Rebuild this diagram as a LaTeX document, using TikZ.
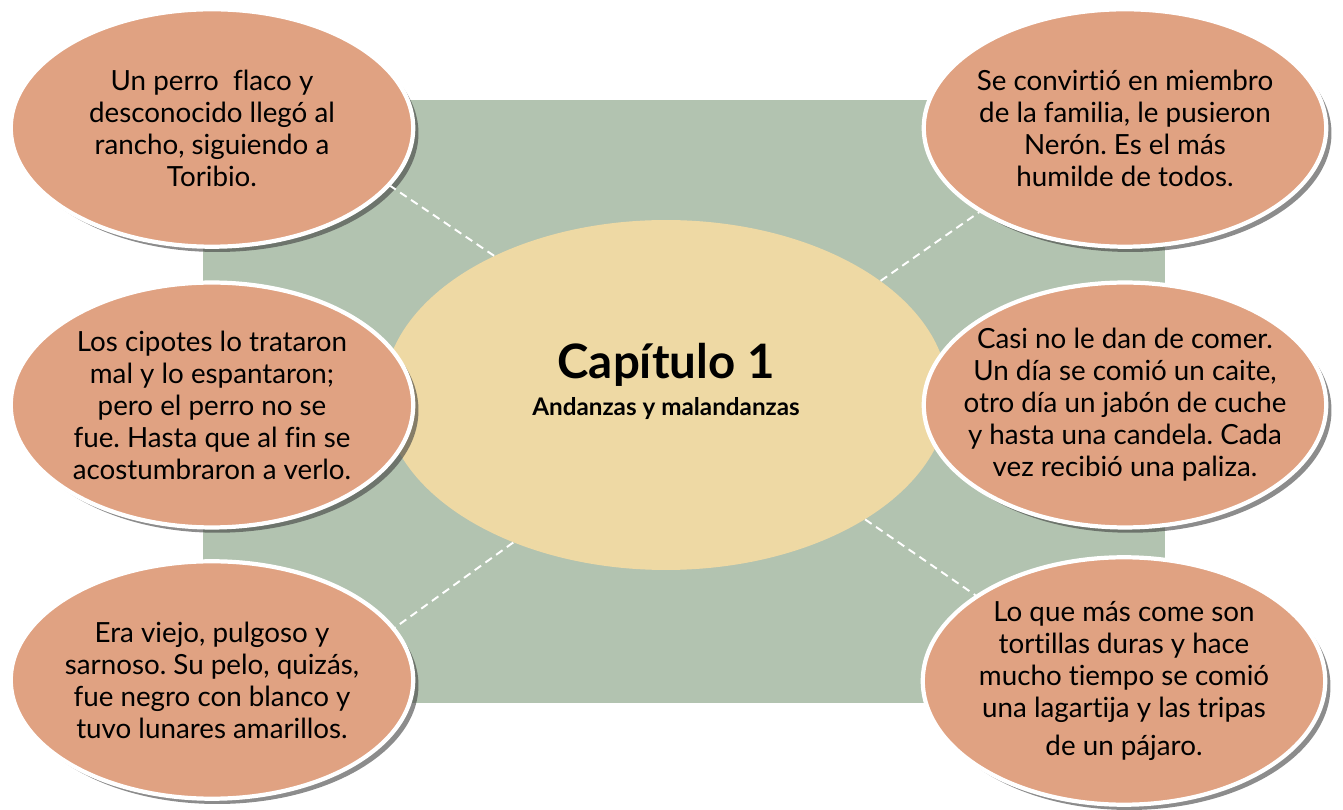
\documentclass[tikz,border=0pt]{standalone}
\usepackage{fontspec}
\setmainfont{Lato}[Ligatures={NoCommon,NoRare,NoContextual}]
\usetikzlibrary{shapes.geometric,shadows}
\definecolor{panel}{RGB}{178,195,176}
\definecolor{salmon}{RGB}{224,162,130}
\definecolor{sand}{RGB}{238,217,164}
\frenchspacing

\begin{document}
\begin{tikzpicture}[x=0.02cm, y=-0.02cm,
  idea/.style={ellipse, fill=salmon, draw=white, line width=2.4pt,
    minimum width=8.05cm, minimum height=4.75cm, inner xsep=-0.6cm, inner ysep=0pt,
    align=center, font=\fontsize{15.8}{18.2}\selectfont,
    drop shadow={shadow xshift=3pt, shadow yshift=-3pt, opacity=0.6, fill=black!75}},
  core/.style={ellipse, fill=sand, minimum width=11.3cm, minimum height=7cm,
    inner sep=0pt, align=center},
  link/.style={white, line width=1.1pt, dash pattern=on 4.5pt off 3pt}]
\useasboundingbox (0,0) rectangle (1343,810);

% Background panel
\fill[panel] (203,100) rectangle (1165,703);

% Chapter
\node[core] (cap) at (666,395) {%
    {\fontsize{27}{30}\selectfont\bfseries Capítulo 1}\\[5pt]
    {\fontsize{13.8}{15}\selectfont\bfseries Andanzas y malandanzas}\\[6pt]};

% Left column
\node[idea] (tl) at (212,128) {%
    Un perro\ \ flaco y\\desconocido llegó al\\rancho, siguiendo a\\Toribio.};
\node[idea, minimum height=4.9cm] (ml) at (212,405) {%
    Los cipotes lo trataron\\mal y lo espantaron;\\pero el perro no se\\
    fue. Hasta que al fin se\\acostumbraron a verlo.};
\node[idea] (bl) at (212,680) {%
    Era viejo, pulgoso y\\sarnoso. Su pelo, quizás,\\fue negro con blanco y\\
    tuvo lunares amarillos.};

% Right column
\node[idea] (tr) at (1125,128) {%
    Se convirtió en miembro\\de la familia, le pusieron\\Nerón. Es el más\\
    humilde de todos.};
\node[idea, minimum height=4.9cm] (mr) at (1125,405) {%
    Casi no le dan de comer.\\Un día se comió un caite,\\otro día un jabón de cuche\\
    y hasta una candela. Cada\\vez recibió una paliza.};
\node[idea, minimum height=4.95cm] (br) at (1124,681) {%
    Lo que más come son\\tortillas duras y hace\\mucho tiempo se comió\\
    una lagartija y las tripas\\[3pt]de un pájaro.};

% Links
\draw[link] (cap.141) -- (tl.-18);
\draw[link] (cap.28) -- (tr.210);
\draw[link] (cap.224) -- (bl.16);
\draw[link] (cap.-32) -- (br.150);
\end{tikzpicture}
\end{document}
